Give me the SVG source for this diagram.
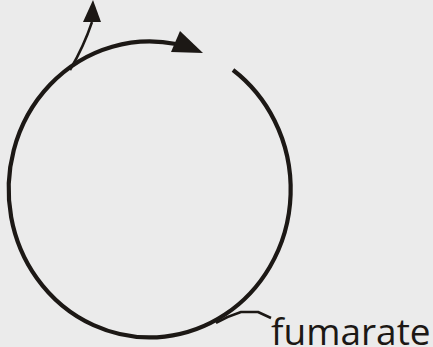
<svg xmlns="http://www.w3.org/2000/svg" width="433" height="347" viewBox="0 0 433 347">
  <style>
    .cycle { fill: none; stroke: #1c1815; stroke-width: 4.2; stroke-linejoin: round; }
    .branch { fill: none; stroke: #1c1815; stroke-width: 2.5; stroke-linejoin: round; }
    .head { fill: #1c1815; stroke: none; }
    .label { font-family: "Open Sans", "Liberation Sans", sans-serif; font-size: 37px; fill: #1c1815; }
  </style>
  <rect width="433" height="347" fill="#ebebeb"/>
  <g id="connectors">
    <path class="cycle" d="M233,70 A141,148 0 1 1 176,44"/>
    <polygon class="head" points="203,53 180,31 171,52"/>
    <path class="branch" d="M70,70 Q84,46 92,22"/>
    <polygon class="head" points="93,0 83,22 101,22"/>
    <path class="branch" d="M216,323 Q228,316 241,312 L258,312 L271,318"/>
  </g>
  <g id="fumarate">
    <text class="label" x="271" y="345">fumarate</text>
  </g>
</svg>
